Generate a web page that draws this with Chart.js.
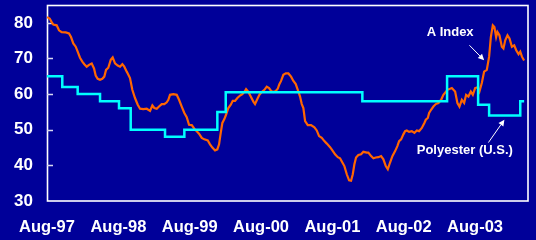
<!DOCTYPE html>
<html>
<head>
<meta charset="utf-8">
<script src="https://cdn.jsdelivr.net/npm/chart.js@4/dist/chart.umd.min.js"></script>
<style>
  html, body { margin: 0; padding: 0; background: #000099; }
  canvas { display: block; }
</style>
</head>
<body>
<canvas id="c" width="536" height="240"></canvas>
<script>
// Months since Aug-97 (x) and A Index values
const aIndexMonths = [0.00,0.45,0.79,1.06,1.63,2.02,2.47,3.15,3.70,4.04,4.42,4.83,5.16,5.55,5.94,6.28,6.68,7.07,7.52,7.91,8.19,8.53,8.92,9.30,9.64,9.93,10.31,10.72,11.05,11.44,11.89,12.28,12.67,13.00,13.41,13.58,13.96,14.35,14.80,15.26,15.65,16.20,16.77,17.33,17.72,18.05,18.46,18.84,19.30,19.73,20.14,20.41,20.69,21.25,21.82,22.21,22.66,23.10,23.50,23.89,24.34,24.78,25.18,25.57,26.03,26.46,27.04,27.42,27.81,28.26,28.65,28.94,29.22,29.49,29.83,30.11,30.50,30.91,31.24,31.63,32.02,32.47,32.86,33.19,33.48,33.87,34.27,34.71,34.99,35.38,35.72,36.12,36.56,36.96,37.35,37.69,38.07,38.48,38.81,39.08,39.37,39.75,40.16,40.60,41.05,41.44,41.84,42.18,42.56,42.85,43.12,43.41,43.86,44.41,44.97,45.37,45.76,46.21,46.65,47.06,47.61,48.00,48.45,48.91,49.29,49.68,50.02,50.42,50.81,51.14,51.43,51.70,51.98,52.37,52.83,53.21,53.79,54.05,54.51,54.90,55.30,55.74,56.19,56.58,56.98,57.32,57.70,58.09,58.55,58.93,59.22,59.56,59.94,60.23,60.51,60.90,61.36,61.79,62.20,62.58,63.04,63.47,63.71,64.05,64.27,64.60,64.99,65.39,65.83,66.29,66.67,67.35,68.09,68.64,69.03,69.37,69.77,70.16,70.49,70.88,71.28,71.62,72.01,72.39,72.73,73.13,73.52,73.97,74.36,74.65,74.98,75.25,75.54,75.76,76.10,76.50,76.77,77.07,77.45,77.79,78.19,78.58,78.92,79.31,79.60,79.88,80.24];
const aIndexValues = [81.6,81.2,80.2,79.5,79.3,77.9,77.4,77.3,77.0,76.0,74.2,73.3,71.9,70.2,69.1,68.4,67.7,68.2,68.6,67.2,65.2,64.3,64.0,64.3,64.9,66.8,67.4,69.6,70.3,68.6,68.0,67.7,68.4,67.7,66.3,65.8,64.5,61.2,58.9,57.0,55.9,55.8,55.9,55.3,56.8,56.1,55.9,56.5,57.2,57.2,57.7,58.4,59.8,60.0,59.8,58.4,56.5,54.7,53.5,51.4,51.3,50.3,49.6,48.9,47.7,47.3,47.0,45.9,45.0,44.2,44.5,45.9,49.1,51.9,53.0,54.2,56.1,57.0,58.1,58.1,58.9,59.6,60.0,60.6,61.4,60.6,59.3,57.9,57.2,58.6,59.8,60.6,61.2,62.1,61.7,60.9,60.6,60.9,61.5,62.8,63.7,65.4,65.8,65.8,64.9,63.7,62.8,61.2,59.3,57.2,56.1,52.4,51.3,51.3,50.7,49.8,48.2,47.7,46.8,46.1,45.1,44.2,43.1,42.3,42.0,40.8,39.8,37.5,35.8,35.7,37.5,40.3,42.2,42.9,43.1,43.8,43.6,43.6,42.6,42.0,42.2,42.3,42.6,41.7,39.8,38.9,40.8,42.6,44.0,45.4,46.8,47.3,48.7,49.6,49.8,49.4,49.6,49.1,49.8,49.6,50.5,51.9,52.8,53.3,54.7,55.6,56.5,57.2,57.5,58.4,59.8,61.2,61.7,60.7,57.5,56.5,58.4,57.5,59.8,59.3,60.7,59.8,61.7,61.9,60.7,63.1,66.3,66.8,70.5,76.0,79.3,78.8,76.0,77.4,76.5,73.3,72.8,75.1,76.5,75.6,73.3,73.7,72.3,71.2,71.9,70.5,69.4];

// Polyester (U.S.) price changes: month since Aug-97 and level held from then on
const polyMonths = [0, 2.57, 5.16, 8.92, 12.11, 14.08, 19.85, 23.10, 28.65, 30.06, 53.04, 67.29, 72.51, 74.36, 79.60, 80.25];
const polyValues = [65, 62, 60, 58, 56, 50, 48, 50, 55, 60.5, 58, 65, 57, 54, 58, 58];

const xTickLabels = ['Aug-97','Aug-98','Aug-99','Aug-00','Aug-01','Aug-02','Aug-03'];
const yTickValues = [30, 40, 50, 60, 70, 80];

const FONT = 'Arial, "Liberation Sans", sans-serif';

const decor = {
  id: 'decor',
  beforeDatasetsDraw(chart) {
    const {ctx, chartArea: a, scales: {y}} = chart;
    ctx.save();
    ctx.strokeStyle = '#ffffff';
    ctx.lineWidth = 1.6;
    ctx.strokeRect(a.left + 0.5, a.top + 0.5, a.right - a.left - 0.5, a.bottom - a.top - 0.5);
    ctx.strokeStyle = '#d8d8f0';
    ctx.lineWidth = 1.5;
    yTickValues.forEach(v => {
      if (v <= y.min) return;
      const py = Math.round(y.getPixelForValue(v)) + 0.5;
      ctx.beginPath();
      ctx.moveTo(a.left, py);
      ctx.lineTo(a.left + 6, py);
      ctx.stroke();
    });
    ctx.restore();
  },
  afterDatasetsDraw(chart) {
    const {ctx, scales: {x, y}} = chart;
    ctx.save();
    ctx.fillStyle = '#ffffff';
    ctx.strokeStyle = '#ffffff';
    ctx.font = 'bold 13px ' + FONT;
    ctx.textAlign = 'center';
    ctx.textBaseline = 'middle';
    ctx.fillText('A Index', x.getPixelForValue(67.8), y.getPixelForValue(77.4));
    ctx.fillText('Polyester (U.S.)', x.getPixelForValue(70.27), y.getPixelForValue(44.3));
    const arrow = (m1, v1, m2, v2) => {
      const x1 = x.getPixelForValue(m1), y1 = y.getPixelForValue(v1);
      const x2 = x.getPixelForValue(m2), y2 = y.getPixelForValue(v2);
      const ang = Math.atan2(y2 - y1, x2 - x1);
      const hl = 6, hw = 3;
      const bx = x2 - hl * Math.cos(ang), by = y2 - hl * Math.sin(ang);
      ctx.lineWidth = 1;
      ctx.beginPath();
      ctx.moveTo(x1, y1);
      ctx.lineTo(bx, by);
      ctx.stroke();
      ctx.beginPath();
      ctx.moveTo(x2, y2);
      ctx.lineTo(bx + hw * Math.sin(ang), by - hw * Math.cos(ang));
      ctx.lineTo(bx - hw * Math.sin(ang), by + hw * Math.cos(ang));
      ctx.closePath();
      ctx.fill();
    };
    arrow(71.05, 73.7, 73.52, 69.5);
    arrow(74.24, 46.4, 76.93, 52.8);
    ctx.restore();
  }
};

new Chart(document.getElementById('c'), {
  type: 'line',
  data: {
    datasets: [
      {
        label: 'A Index',
        data: aIndexMonths.map((m, i) => ({x: m, y: aIndexValues[i]})),
        borderColor: '#FF6600',
        borderWidth: 2.2,
        pointRadius: 0,
        tension: 0,
        order: 2
      },
      {
        label: 'Polyester (U.S.)',
        data: polyMonths.map((m, i) => ({x: m, y: polyValues[i]})),
        borderColor: '#00FFFF',
        borderWidth: 2.5,
        pointRadius: 0,
        stepped: true,
        order: 1
      }
    ]
  },
  options: {
    responsive: false,
    animation: false,
    devicePixelRatio: 1,
    layout: { padding: { top: 5, right: 8, left: 0, bottom: 0 } },
    plugins: { legend: { display: false }, tooltip: { enabled: false } },
    scales: {
      x: {
        type: 'linear',
        min: 0,
        max: 80.9,
        grid: { display: false, drawTicks: false },
        border: { display: false },
        afterFit(s) { s.height = 39; s.paddingLeft = 0; s.paddingRight = 0; },
        afterBuildTicks(s) { s.ticks = xTickLabels.map((_, i) => ({value: i * 12})); },
        ticks: {
          color: '#ffffff',
          padding: 17,
          maxRotation: 0,
          autoSkip: false,
          font: { family: FONT, size: 16.5, weight: 'bold' },
          callback: (v) => xTickLabels[Math.round(v / 12)]
        }
      },
      y: {
        min: 30,
        max: 85,
        grid: { display: false, drawTicks: false },
        border: { display: false },
        afterFit(s) { s.width = 47; s.paddingTop = 0; s.paddingBottom = 0; },
        afterBuildTicks(s) { s.ticks = yTickValues.map(v => ({value: v})); },
        ticks: {
          color: '#ffffff',
          padding: 14,
          font: { family: FONT, size: 17, weight: 'bold' },
          callback: (v) => String(v)
        }
      }
    }
  },
  plugins: [decor]
});
</script>
</body>
</html>
